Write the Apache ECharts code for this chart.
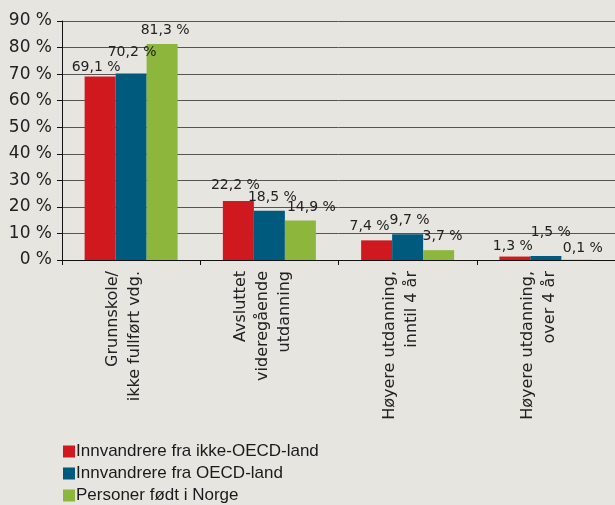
<!DOCTYPE html>
<html>
<head>
<meta charset="utf-8">
<script src="https://cdn.jsdelivr.net/npm/echarts@6/dist/echarts.min.js"></script>
<style>
  html, body { margin: 0; padding: 0; background: #e6e5df; }
</style>
</head>
<body>
<div id="myChart" style="width: 615px; height: 505px;"></div>
<script>
  // kategorier og verdier (prosent)
  const categories = ['Grunnskole/\nikke fullført vdg.', 'Avsluttet\nvideregående\nutdanning', 'Høyere utdanning,\ninntil 4 år', 'Høyere utdanning,\nover 4 år'];
  const seriesNames = ['Innvandrere fra ikke-OECD-land', 'Innvandrere fra OECD-land', 'Personer født i Norge'];
  const ikkeOecd = [69.1, 22.2, 7.4, 1.3];
  const oecd = [70.2, 18.5, 9.7, 1.5];
  const norge = [81.3, 14.9, 3.7, 0.1];
  const yTicks = [0, 10, 20, 30, 40, 50, 60, 70, 80, 90];

  // manuelt flyttede dataetiketter (dx, dy) som i originalen
  const labelShift = [
    [[-4, 5], [-3, -2], [-7, 0], [-2, 4]],
    [[1, -7], [3, 0], [2, 0], [5, -10]],
    [[3, 0], [11, 1], [4, 0], [6, 3]]
  ];
  const colors = ['#d0191f', '#005a7e', '#8cb63c'];

  function makeSeries(idx, values) {
    return {
      name: seriesNames[idx],
      type: 'bar',
      barWidth: 31,
      barGap: '0%',
      itemStyle: { color: colors[idx] },
      data: values.map((v, i) => ({
        value: v,
        label: { offset: labelShift[idx][i] }
      })),
      label: {
        show: true,
        position: 'top',
        distance: 7,
        fontFamily: 'DejaVu Sans',
        fontSize: 14,
        color: '#222',
        formatter: p => p.value.toFixed(1).replace('.', ',') + ' %'
      }
    };
  }

  let myChart = echarts.init(document.getElementById('myChart'));
  myChart.setOption({
    backgroundColor: '#e6e5df',
    animation: false,
    grid: { left: 62, top: 21, width: 556, height: 239, containLabel: false },
    legend: {
      orient: 'vertical',
      left: 63,
      top: 442,
      height: 64,
      padding: 0,
      itemWidth: 12,
      itemHeight: 12,
      itemGap: 3,
      icon: 'rect',
      textStyle: { fontFamily: 'Liberation Sans', fontSize: 17, color: '#1a1a1a', lineHeight: 19, padding: [0, 0, 0, -4] },
      data: seriesNames
    },
    xAxis: {
      type: 'category',
      data: categories,
      axisLine: { lineStyle: { color: '#111', width: 1 } },
      axisTick: { show: true, length: 5, lineStyle: { color: '#111' } },
      axisLabel: {
        rotate: 90,
        interval: 0,
        margin: 11,
        fontFamily: 'DejaVu Sans',
        fontSize: 16,
        lineHeight: 22,
        color: '#222',
        // en smal tom linje skyver teksten litt til venstre, som i originalen
        formatter: v => v.split('\n').map(s => '{t|' + s + '}').join('\n') + '\n{s| }',
        rich: {
          t: { fontFamily: 'DejaVu Sans', fontSize: 16, lineHeight: 22, color: '#222' },
          s: { fontSize: 10, lineHeight: 14 }
        }
      }
    },
    yAxis: {
      type: 'value',
      min: yTicks[0],
      max: yTicks[yTicks.length - 1],
      interval: 10,
      axisLine: { show: true, lineStyle: { color: '#111', width: 1 } },
      axisTick: { show: true, length: 5, lineStyle: { color: '#111' } },
      splitLine: { show: true, lineStyle: { color: '#555', width: 1 } },
      axisLabel: {
        margin: 10,
        fontFamily: 'DejaVu Sans',
        fontSize: 17,
        color: '#222',
        formatter: v => v + ' %'
      }
    },
    series: [
      makeSeries(0, ikkeOecd),
      makeSeries(1, oecd),
      makeSeries(2, norge)
    ]
  });
</script>
</body>
</html>
